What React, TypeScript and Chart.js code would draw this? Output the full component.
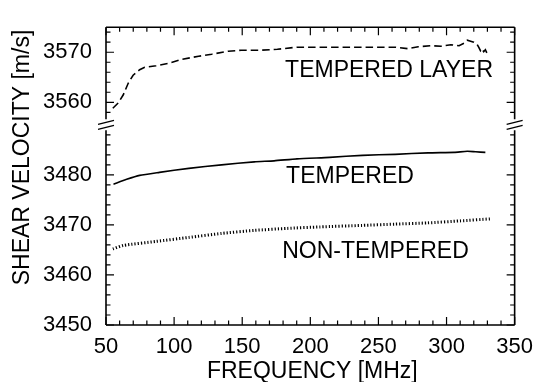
import React, { useEffect, useRef } from "react";
import { Chart, registerables } from "chart.js";

Chart.register(...registerables);

// ---- data ----
const layerFreq = [55, 59.1, 62.7, 66.3, 69.9, 74.7, 78.4, 86.8, 96.4, 106, 118, 127.6, 139.7, 149.3, 163.7, 175.8, 190.2, 204.6, 219, 233.5, 247.9, 262.3, 271.9, 279.2, 288.8, 296, 303.2, 309.2, 312.8, 315.2, 317.7, 320, 322.4, 323.6, 324.9, 326, 327.3, 328.5, 329.7];
const layerVel = [3558.8, 3559.9, 3561.5, 3563.8, 3565.4, 3566.5, 3567.0, 3567.3, 3567.8, 3568.6, 3569.2, 3569.6, 3570.2, 3570.4, 3570.4, 3570.6, 3571.0, 3571.0, 3571.0, 3571.0, 3571.0, 3571.0, 3570.7, 3571.1, 3571.3, 3571.2, 3571.5, 3571.3, 3571.8, 3572.4, 3572.2, 3572.0, 3571.6, 3571.0, 3570.3, 3570.7, 3570.1, 3570.5, 3569.8];

const temperedFreq = [55.5, 65.2, 74.7, 89.2, 110.8, 134.8, 158.9, 173.4, 190.2, 214.2, 238.3, 262.3, 286.4, 305.6, 315.2, 321.3, 328.5];
const temperedVel = [3478.1, 3479.1, 3479.9, 3480.5, 3481.3, 3482.0, 3482.6, 3482.8, 3483.2, 3483.5, 3483.9, 3484.1, 3484.4, 3484.5, 3484.7, 3484.6, 3484.5];

const nonFreq = [55, 62.7, 86.8, 110.8, 134.8, 158.9, 182.9, 207, 238, 262, 286, 310, 332];
const nonVel = [3465.2, 3465.9, 3466.7, 3467.5, 3468.3, 3468.9, 3469.3, 3469.6, 3469.9, 3470.15, 3470.4, 3470.8, 3471.2];

const xTicks = [50, 100, 150, 200, 250, 300, 350];
const upperTicks = [3560, 3570];
const lowerTicks = [3450, 3460, 3470, 3480];

const xTitle = "FREQUENCY [MHz]";
const yTitle = "SHEAR VELOCITY [m/s]";
const labelLayer = "TEMPERED LAYER";
const labelTempered = "TEMPERED";
const labelNon = "NON-TEMPERED";

const FONT = '"Liberation Sans", Arial, Helvetica, sans-serif';
const FS = 22;
const FS_TEXT = 23;

const framePlugin = {
  id: "frame",
  afterDraw(chart: any) {
    const { ctx, chartArea } = chart;
    const xs = chart.scales.x;
    const yU = chart.scales.yU;
    const yL = chart.scales.yL;
    const L = chartArea.left, R = chartArea.right, T = chartArea.top, B = chartArea.bottom;
    const b = (yU.bottom + yL.top) / 2;
    const gap = 5.5;
    ctx.save();
    ctx.strokeStyle = "#000";
    ctx.lineWidth = 1.6;
    ctx.lineCap = "butt";
    ctx.beginPath();
    ctx.moveTo(L, T); ctx.lineTo(R, T);
    ctx.moveTo(L, B); ctx.lineTo(R, B);
    ctx.moveTo(L, T); ctx.lineTo(L, b - gap);
    ctx.moveTo(L, b + gap); ctx.lineTo(L, B);
    ctx.moveTo(R, T); ctx.lineTo(R, b - gap);
    ctx.moveTo(R, b + gap); ctx.lineTo(R, B);
    ctx.stroke();
    // break marks
    ctx.lineWidth = 1.2;
    ctx.beginPath();
    for (const X of [L, R]) {
      ctx.moveTo(X - 8, b - 0.5); ctx.lineTo(X + 8, b - 4.5);
      ctx.moveTo(X - 8, b + 4.5); ctx.lineTo(X + 8, b + 0.5);
    }
    ctx.stroke();
    // ticks
    ctx.lineWidth = 1.2;
    ctx.beginPath();
    for (let v = 50; v <= 350; v += 10) {
      const px = xs.getPixelForValue(v);
      const len = v % 50 === 0 ? 8 : 4.5;
      ctx.moveTo(px, B); ctx.lineTo(px, B - len);
      ctx.moveTo(px, T); ctx.lineTo(px, T + len);
    }
    const yt = (scale: any, lo: number, hi: number) => {
      for (let v = lo; v <= hi; v += 2) {
        const py = scale.getPixelForValue(v);
        if (Math.abs(py - b) < gap + 1) continue;
        if (py < T - 0.5 || py > B + 0.5) continue;
        const len = v % 10 === 0 ? 8 : 4.5;
        ctx.moveTo(L, py); ctx.lineTo(L + len, py);
        ctx.moveTo(R, py); ctx.lineTo(R - len, py);
      }
    };
    yt(yU, 3556, 3574);
    yt(yL, 3450, 3490);
    ctx.stroke();
    // texts
    ctx.fillStyle = "#000";
    ctx.font = `${FS_TEXT}px ${FONT}`;
    ctx.textBaseline = "middle";
    ctx.textAlign = "left";
    ctx.fillText(labelLayer, xs.getPixelForValue(181.5), yU.getPixelForValue(3566.3));
    ctx.fillText(labelTempered, xs.getPixelForValue(182.2), yL.getPixelForValue(3479.6));
    ctx.fillText(labelNon, xs.getPixelForValue(179.4), yL.getPixelForValue(3464.6));
    ctx.textAlign = "center";
    ctx.fillText(xTitle, (L + R) / 2 + 2, 372);
    ctx.translate(23, 157.5);
    ctx.rotate(-Math.PI / 2);
    ctx.fillText(yTitle, 0, 0);
    ctx.restore();
  },
};

export default function App() {
  const ref = useRef<HTMLCanvasElement | null>(null);
  useEffect(() => {
    const canvas = ref.current;
    if (!canvas) return;
    Chart.defaults.font.family = FONT;
    const tickFont = { family: FONT, size: FS };
    const fmt = (v: any) => String(v);
    const pts = (xs: number[], ys: number[]) => xs.map((x, i) => ({ x, y: ys[i] }));
    const chart = new Chart(canvas, {
      type: "line",
      data: {
        datasets: [
          {
            data: pts(layerFreq, layerVel),
            yAxisID: "yU",
            borderColor: "#000",
            borderWidth: 1.6,
            borderDash: [7.5, 4],
            pointRadius: 0,
            fill: false,
            tension: 0,
          },
          {
            data: pts(temperedFreq, temperedVel),
            yAxisID: "yL",
            borderColor: "#000",
            borderWidth: 1.6,
            pointRadius: 0,
            fill: false,
            tension: 0.2,
          },
          {
            data: pts(nonFreq, nonVel),
            yAxisID: "yL",
            borderColor: "#000",
            borderWidth: 3,
            borderDash: [1.2, 2],
            pointRadius: 0,
            fill: false,
            tension: 0.2,
          },
        ],
      },
      options: {
        animation: false,
        responsive: false,
        maintainAspectRatio: false,
        layout: { padding: { top: 15, right: 20, left: 0, bottom: 0 } },
        plugins: { legend: { display: false }, tooltip: { enabled: false }, title: { display: false } },
        scales: {
          x: {
            type: "linear",
            min: 50,
            max: 350,
            afterBuildTicks: (s: any) => { s.ticks = xTicks.map((v) => ({ value: v })); },
            afterFit: (s: any) => { s.height = 57; },
            ticks: { font: tickFont, color: "#000", padding: 9, maxRotation: 0, autoSkip: false, callback: fmt },
            grid: { display: false, drawTicks: false },
            border: { display: false },
          },
          yL: {
            type: "linear",
            position: "left",
            stack: "v",
            stackWeight: 40,
            min: 3450,
            max: 3490,
            afterBuildTicks: (s: any) => { s.ticks = lowerTicks.map((v) => ({ value: v })); },
            afterFit: (s: any) => { s.width = 106; },
            ticks: { font: tickFont, color: "#000", padding: 14, autoSkip: false, callback: fmt },
            grid: { display: false, drawTicks: false },
            border: { display: false },
          },
          yU: {
            type: "linear",
            position: "left",
            stack: "v",
            stackWeight: 19.5,
            min: 3555.5,
            max: 3575,
            afterBuildTicks: (s: any) => { s.ticks = upperTicks.map((v) => ({ value: v })); },
            afterFit: (s: any) => { s.width = 106; },
            ticks: { font: tickFont, color: "#000", padding: 14, autoSkip: false, callback: fmt },
            grid: { display: false, drawTicks: false },
            border: { display: false },
          },
        },
      } as any,
      plugins: [framePlugin],
    });
    return () => chart.destroy();
  }, []);
  return (
    <div style={{ position: "fixed", left: 0, top: 0, width: 542, height: 382, background: "#fff" }}>
      <canvas ref={ref} width={542} height={382} style={{ width: 542, height: 382, display: "block" }} />
    </div>
  );
}
